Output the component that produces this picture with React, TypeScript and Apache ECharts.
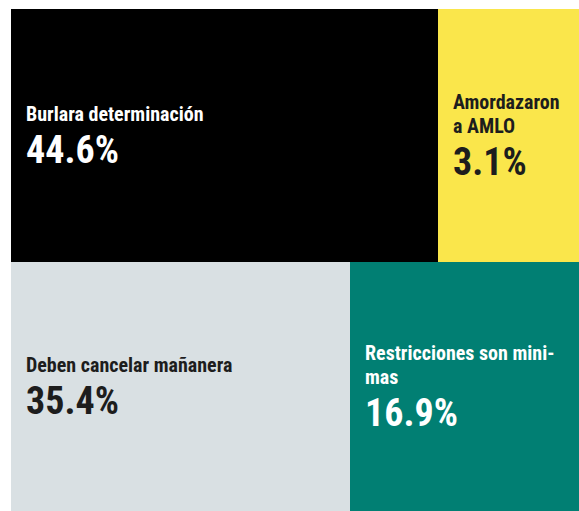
import React, { useEffect, useRef } from "react";
import * as echarts from "echarts";

// ---- data ----
const topNames = ["Burlara determinación", "Amordazaron\na AMLO"];
const topPercents = [44.6, 3.1];
const bottomNames = ["Deben cancelar mañanera", "Restricciones son mini-\nmas"];
const bottomPercents = [35.4, 16.9];

// ---- layout / style (the graphic is not drawn to scale, so box sizes are stylistic) ----
const LAYOUT = {
  left: 11,
  width: 568,
  topRowTop: 9,
  topRowHeight: 253,
  bottomRowTop: 262,
  bottomRowHeight: 249,
  topWeights: [427, 141],
  bottomWeights: [339, 229],
  labelInset: 15,
  titleLineHeight: 24,
  valueLineHeight: 48,
};
const topColors = ["#000000", "#FAE64B"];
const topText = ["#ffffff", "#1d1d1d"];
const bottomColors = ["#D9E0E3", "#017F73"];
const bottomText = ["#1d1d1d", "#ffffff"];

const FONT = '"Roboto Condensed", "Open Sans Condensed", sans-serif';

function makeSeries(
  names: string[],
  pcts: number[],
  weights: number[],
  colors: string[],
  textColors: string[],
  top: number,
  height: number
) {
  return {
    type: "treemap",
    left: LAYOUT.left,
    top,
    width: LAYOUT.width,
    height,
    roam: false,
    nodeClick: false,
    breadcrumb: { show: false },
    sort: "desc",
    silent: true,
    itemStyle: { borderWidth: 0, gapWidth: 0 },
    levels: [{ itemStyle: { borderWidth: 0, gapWidth: 0 } }],
    emphasis: { disabled: true },
    data: names.map((n, i) => {
      const lines = n.split("\n").length;
      const block = lines * LAYOUT.titleLineHeight + LAYOUT.valueLineHeight;
      const pad = Math.round((height - block) / 2) + 2;
      return {
        name: n,
        value: weights[i],
        pct: pcts[i].toFixed(1),
        itemStyle: { color: colors[i] },
        label: {
          show: true,
          position: [LAYOUT.labelInset, pad],
          padding: 0,
          overflow: "none",
          color: textColors[i],
          formatter: (p: any) => `{t|${p.name}}\n{v|${p.data.pct}%}`,
          rich: {
            t: {
              color: textColors[i],
              fontFamily: FONT,
              fontWeight: "bold",
              fontSize: 20,
              lineHeight: LAYOUT.titleLineHeight,
            },
            v: {
              color: textColors[i],
              fontFamily: FONT,
              fontWeight: "bold",
              fontSize: 38,
              lineHeight: LAYOUT.valueLineHeight,
            },
          },
        },
      };
    }),
  };
}

export default function App() {
  const ref = useRef<HTMLDivElement>(null);
  useEffect(() => {
    if (!ref.current) return;
    const chart = echarts.init(ref.current, undefined, { renderer: "svg" });
    chart.setOption({
      animation: false,
      backgroundColor: "#ffffff",
      series: [
        makeSeries(topNames, topPercents, LAYOUT.topWeights, topColors, topText, LAYOUT.topRowTop, LAYOUT.topRowHeight),
        makeSeries(
          bottomNames,
          bottomPercents,
          LAYOUT.bottomWeights,
          bottomColors,
          bottomText,
          LAYOUT.bottomRowTop,
          LAYOUT.bottomRowHeight
        ),
      ],
    });
    return () => chart.dispose();
  }, []);
  return (
    <div
      ref={ref}
      style={{ position: "fixed", left: 0, top: 0, width: 579, height: 511 }}
    />
  );
}
